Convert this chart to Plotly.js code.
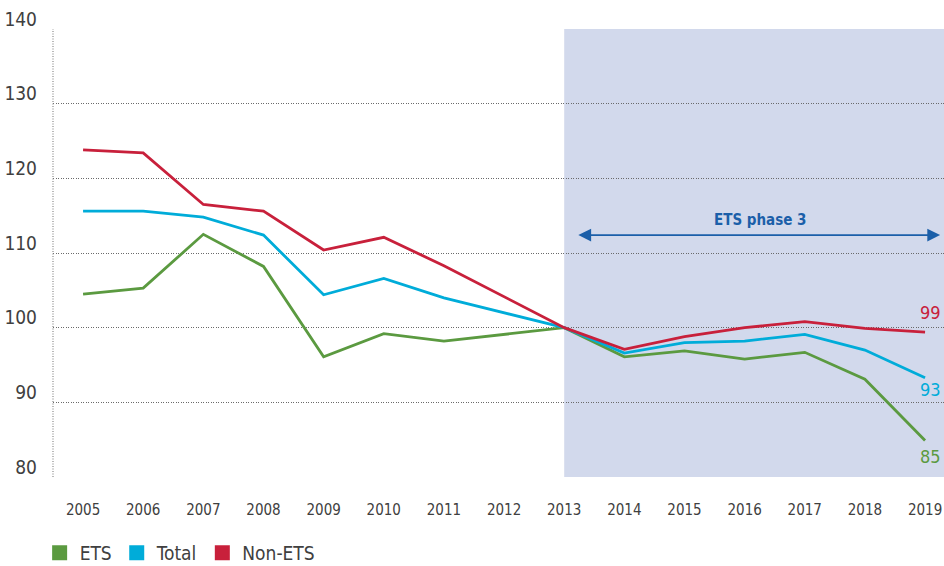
<!DOCTYPE html>
<html>
<head>
<meta charset="utf-8">
<script src="https://cdn.plot.ly/plotly-3.0.1.min.js"></script>
<style>html,body{margin:0;padding:0;background:#fff;}#chart{width:944px;height:566px;}</style>
</head>
<body>
<div id="chart"></div>
<script>
const years = [2005,2006,2007,2008,2009,2010,2011,2012,2013,2014,2015,2016,2017,2018,2019];
const ets    = [104.5,105.3,112.5,108.2,96.1,99.2,98.2,99.1,100,96.1,96.9,95.8,96.7,93.1,84.9];
const total  = [115.6,115.6,114.8,112.4,104.4,106.6,104.0,102.0,100,96.6,98.0,98.2,99.1,97.0,93.3];
const nonEts = [123.8,123.4,116.5,115.6,110.4,112.1,108.3,104.2,100,97.1,98.8,100.0,100.8,99.9,99.4];
const seriesNames = ['ETS','Total','Non-ETS'];
const seriesColors = ['#5b9a40','#00acd9','#c8203b'];
const endLabels = ['85','93','99'];
const phaseStart = 2013;
const phaseLabel = 'ETS phase 3';
const yTicks = [80,90,100,110,120,130,140];

const FONT = '"Liberation Sans Narrow", "DejaVu Sans Condensed", "Arial Narrow", sans-serif';
const seriesData = [ets, total, nonEts];

const traces = [];
seriesData.forEach((vals, i) => {
  traces.push({
    x: years, y: vals, type: 'scatter', mode: 'lines',
    line: {color: seriesColors[i], width: 2.8},
    showlegend: false, hoverinfo: 'skip'
  });
});
seriesNames.forEach((n, i) => {
  traces.push({
    x: [null], y: [null], type: 'scatter', mode: 'markers', name: n,
    marker: {symbol: 'square', size: 15, color: seriesColors[i]},
    showlegend: true
  });
});

const xMax = 2019.315;
const annotations = [
  {x: 2019.25, y: 112.4, ax: 2013.21, ay: 112.4, axref: 'x', ayref: 'y', xref: 'x', yref: 'y',
   text: '', showarrow: true, arrowside: 'end+start', arrowhead: 2, arrowsize: 1.6, arrowwidth: 1.6,
   arrowcolor: '#1b5fa9', standoff: 0, startstandoff: 0},
  {x: 2016.26, y: 114.4, xref: 'x', yref: 'y', text: '<b>' + phaseLabel + '</b>', showarrow: false,
   font: {family: FONT, size: 15, color: '#1b5fa9'}}
];
const labelShift = [-16, -12, 20];
seriesData.forEach((vals, i) => {
  annotations.push({
    x: 1, y: vals[vals.length-1], xref: 'paper', yref: 'y', xanchor: 'right', yanchor: 'middle',
    xshift: -1, yshift: labelShift[i], text: endLabels[i], showarrow: false,
    font: {family: FONT, size: 18, color: seriesColors[i]}
  });
});

const layout = {
  width: 944, height: 566,
  margin: {l: 53, r: 0, t: 29, b: 89, autoexpand: false},
  paper_bgcolor: '#ffffff', plot_bgcolor: '#ffffff',
  font: {family: FONT, color: '#404040'},
  xaxis: {
    range: [2004.5, xMax], tickmode: 'array', tickvals: years, ticktext: years.map(String),
    showgrid: false, zeroline: false, showline: false, ticks: '', automargin: false,
    tickfont: {family: FONT, size: 15, color: '#404040'}, ticklabelstandoff: 22, fixedrange: true
  },
  yaxis: {
    range: [80, 140], tickmode: 'array', tickvals: yTicks, ticktext: yTicks.map(String),
    showgrid: true, gridcolor: '#6a6a6a', gridwidth: 1, griddash: '1px,1.5px',
    zeroline: false, showline: false, ticks: '', automargin: false,
    tickfont: {family: FONT, size: 19, color: '#404040'}, ticklabelstandoff: 15, ticklabelshift: -10,
    fixedrange: true
  },
  shapes: [
    {type: 'rect', xref: 'x', yref: 'paper', x0: phaseStart, x1: xMax, y0: 0, y1: 1,
     fillcolor: '#d2d9ec', line: {width: 0}, layer: 'below'},
    {type: 'line', xref: 'paper', yref: 'paper', x0: 0, x1: 0, y0: 0, y1: 1,
     line: {color: '#8a8a8a', width: 1.2, dash: '1px,1.5px'}, layer: 'above'}
  ],
  annotations: annotations,
  showlegend: true,
  legend: {orientation: 'h', x: -0.015, xanchor: 'left', y: -0.127, yanchor: 'top',
           font: {family: FONT, size: 19, color: '#404040'}, bgcolor: 'rgba(0,0,0,0)', itemclick: false}
};

Plotly.newPlot('chart', traces, layout, {displayModeBar: false, staticPlot: true});
</script>
</body>
</html>
